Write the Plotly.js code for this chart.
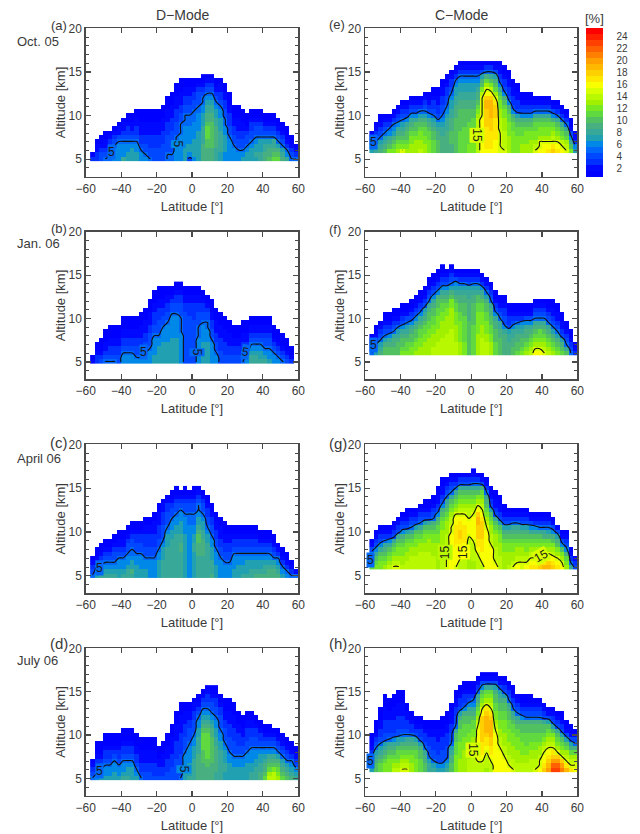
<!DOCTYPE html>
<html><head><meta charset="utf-8">
<script src="https://cdn.plot.ly/plotly-3.0.1.min.js"></script>
<style>html,body{margin:0;padding:0;background:#fff}#c{width:640px;height:834px}</style></head>
<body><div id="c"></div>
<script>
// Each string is one latitude column, read bottom-up; each character is a percentage in base 36.
const panelA=["31","33221","443211","5432211","5554321","66654321","666654221","8666543221","77665433211","77765432211","776654332211","665433222111","654433222111","544333222111","444333222111","444333222111","4444333222111","554444333222111","5544444333222111","666655444333222111","6666665554433222111","7777666655544332211","4677666655544332211","6777766665554433211","7777777666655444321","99998888777665543211","999aabbba99887654321","999aaaaaa99887654321","8889999988776543211","7788888777665433221","667777665544332211","6666654433322111","6665443322111","6654433222111","765443322111","77654432111","777654433211","787765443211","887775443211","99887543211","a9987543211","ba988543211","ba97543211","987543211","86532111","543211","5321"];
const panelB=["21","33211","432111","54322111","543322111","543322111","443322111","66543322111","66543322111","66543322111","65443322111","654433222111","6654433222111","666544433222111","77666654433322111","777766544433322111","777776665443322111","777776666544332211","777777666665443211","7777776666654433211","6666666555544433211","444444444444332211","444444444443332211","444444444433332211","666666555444332211","77777666654433211","7777766655443211","666665443322111","6654433222111","444333222111","44333222111","4433222111","443322111","443322111","5443322111","6654322111","88765432211","88765432211","87765432211","87654432211","76654432211","665432111","65432111","5432111","432111","3211",""];
const panelC=["54321","7653211","87643211","876543211","876543211","8765443211","77665432211","87665432211","887665443211","8977655443211","7776654433211","7766654433211","77665443332211","66665443332211","666654433322211","77776654433322211","888877765444333221","8888888777654443321","88888888877665443211","888888888877665443211","88888899887776654321","777777777766665443211","66666666666655544321","777777887766555443211","88888999aa98776554321","88888999988776544321","8888888877654433211","98887776654433211","777666544332211","66665443322211","6665443322111","666544332211","776665433211","777665433211","877665433211","877765433211","887765433211","987765433211","98776543211","98876543211","99876543211","9987543211","98765321","7653211","653211","5321","52"];
const panelD=["54321","654332111","765432111","76654332111","76654332111","77665432111","76654332111","876654332111","877654332111","777654332111","76543322111","5433222111","4433222111","4433222111","4333222111","43322111","433222111","44333222111","4443332222111","4444433332222111","544444333332222111","776666544433322211","877766665444332211","8888877766544433221","99999988887766543211","9999aaabbbba987654321","999aabbbbbba9876543321","9999aaaaaa998765443211","8899999988776654433211","88888887766544433211","7788777654443322111","7777665444333222111","777665444333222111","7776654433322111","777665443322111","7777665443332211","8877666544332211","888776654433211","99887765433211","ba99876543211","edba986543211","eeca98654321","dcba97543211","ba987543211","a987543211","987653211","87643211"];
const panelE=["76431","8754321","987543211","a98754321","ca9865321","cba9765321","dcba9864321","fcba98754321","dcbaa9864321","ddccba9864321","dddcbaa864321","eddccba975321","ddccbba9754321","cccbba98643211","bbbaa9875433211","aaa998754332211","99998876544332211","999998887654433211","99aaa99988776543321","aaaaaaaa999887765321","bbbbbaaaaa99887765321","bbbbbbaaaa99887765321","ccbbbbbaaa99887765321","ccccbbbbaa99887765321","eeeeeeeedcba998765321","ggggggggfffffeca97421","ghhhhhiiiijjigfdb9531","ghhhhiiijjjjigeca8531","ggghhhhhiiihfdba97421","fffffeeeddccba8643221","feeeedddccba96433211","ddddcccbba964332211","cccccbba964332211","ccccbba974332211","ddccbba9643211","ddcccba9643211","dddccba9643211","fedccbba85321","gffdccba85321","ggfdccba85321","hgfdccba85321","ihfedcb96421","hgfdcba85321","gfecba85321","fedba85321","ca864211","76321"];
const panelF=["54321","7653211","98754321","aa97543211","aa98643211","aa998543211","aaa98753211","cbaa98643211","cbba98754211","ccbaa98643211","dccbaa98643211","ddccbba98643211","dddccbba98743211","ddddccbbaa98543211","eedddccbbaa98643211","eeedddcccbbaa9643211","eeeeddddccbba98643211","eeeeeddddccba9864321","eeeeeedddddcca9754321","eeeddddcccbba9876421","dddcccccbbaa99875321","cccbbbbbbaaa99875321","aaaaaaaa999998874321","bbbbbbbaaaaa99875321","dddddcccccbbaa875321","eeeedddcccbba986321","eeeddcccbbaa975321","dddccbbaa99854321","bbbaaa998643211","aaaa9988543211","99999864433211","999887433211","aa9988643211","baa998753211","cbaa98763211","dcba99864211","edcba9864211","gfdcba9854321","gfdcbb9854321","fedcba9854321","edcba98543211","dcba975432211","cba975432211","ba97432211","a8543211","543211","321"];
const panelG=["ba86421","cba864321","ccba864321","dcba985321","edcba86321","fedcba84321","fedccba84321","eddccba964321","eeddccba743211","eeeddcba854321","eeeddccba74321","eeeeddcba854321","eeeeddccba743211","eeeedddcba843211","eeedddccba9543211","ddddddccbba96432211","eeeedddddccba96432211","fffffeeedddcba9854321","ggggggggffeedcba854321","fgggghhhhhggfdcba85321","eefghhhiihhgfedcba8431","eeeefghhhhggfedcba8431","dddeeeefgggfeedcba8431","ddeeeefgggggfedcba85321","eeefghhiiijjigfdca8531","efgghhhiiiihgfedcb9421","gggggggggfedcba985321","gggggfeeddcba743211","gfeeedddcba8432211","eeedddccba7432211","ddddccba9743211","edddccba974321","feddccba985321","gfeddcba985321","ffeddcba974321","gfedccba974321","hgfedcba86421","hgfedcba86321","ihfedcba85321","jhfedcb985321","jigfdcb975321","ihgedca96421","hgfdca9742","gfdca6421","dcb964321","85321","432"];
const panelH=["775432111","aa9875432111","bba987543322111","ccba98744333222111","cccba985433322111","edcba9864333222111","edcbba8744333222111","fedcba9754333222111","fedcba9854332211","ddccba98533211","cccbba9743211","bbbaa97433211","aa9985433211","887544332211","875443332211","764433322211","7644433322111","87644433322111","aa99875443322211","ccccbbbaa8544332211","dddccccbbbaa97433211","dddddcccbbbaa96433211","eeeddddccbbaa98643211","eeeeedddccbba98653211","eefgggggggfedcba985321","eefghhhiiiiiigfdcba6421","deeefghhijjjjihfdcb8421","eefghhiijjjjihfedcb8421","gggggggggfedccbbaa97421","gggggfeeddccbbaa987421","gggfeedddcccbbaa974321","gfeedddcccbbaa9854321","feedddcccbba98543211","eedddcccbba9854321","eeddcccbbaa9643211","eeddccbbbaa9543211","eeeddccbbaa9543211","feeddccbbaa954321","gffeddcbbaa954321","ihggfedcbaa84321","kjihgfedcba7421","nmkihfedca74321","nmkifdcba84321","lkifdcba743211","jhfedba74211","hfedb974211","gfedb95421"];

const latitudes=[-56.25,-53.75,-51.25,-48.75,-46.25,-43.75,-41.25,-38.75,-36.25,-33.75,-31.25,-28.75,-26.25,-23.75,-21.25,-18.75,-16.25,-13.75,-11.25,-8.75,-6.25,-3.75,-1.25,1.25,3.75,6.25,8.75,11.25,13.75,16.25,18.75,21.25,23.75,26.25,28.75,31.25,33.75,36.25,38.75,41.25,43.75,46.25,48.75,51.25,53.75,56.25,58.75];
const colTicks=[2,4,6,8,10,12,14,16,18,20,22,24];
const latTicks=[-60,-40,-20,0,20,40,60];
const altTicks=[5,10,15,20];
const bandColors=["#0000ff","#0008ff","#0030ff","#0048ff","#0068f8","#0088e8","#20a0b0","#38a898","#48b080","#50c060","#60d840","#78e820","#a0f000","#b8f800","#d8ff00","#f8ff00","#ffe800","#ffd000","#ffb800","#ffa000","#ff8000","#ff6000","#ff4000","#ff2000","#ff0000"];
// panel index, latitude, altitude, text, rotation, local background
const contourLabels=[
 [0,-45.7,5.8,"5",0,"#0068f8"],[0,-7.7,6.75,"5",90,"#0088e8"],
 [1,-27.4,6.1,"5",0,"#0068f8"],[1,2.6,6.1,"5",90,"#0068f8"],[1,30.4,6.2,"5",10,"#0068f8"],
 [2,-52.4,5.9,"5",0,"#0068f8"],
 [3,-52,5.9,"5",0,"#0068f8"],[3,-4.5,6.1,"5",90,"#0088e8"],
 [4,-55,7,"5",0,"#0068f8"],[4,3.5,7.7,"15",90,"#d8ff00"],
 [5,-55,6.9,"5",0,"#0068f8"],
 [6,-56.7,6.8,"5",0,"#0068f8"],[6,-14.7,7.7,"15",-90,"#b8f800"],[6,-4.7,7.7,"15",-90,"#f8ff00"],[6,39.4,7.3,"15",-30,"#d8ff00"],
 [7,-56.7,7,"5",0,"#0068f8"],[7,1.3,8.2,"15",90,"#d8ff00"]];

const W=640,H=834,TXT="#3a3a3a",AX="#4a4a4a",FONT="Liberation Sans, Arial, sans-serif";
const cscale=[];bandColors.forEach((c,i)=>{cscale.push([i/25,c]);cscale.push([(i+1)/25,c]);});
function grid(cols,base){
  const n=Math.max(...cols.map(s=>s.length));
  const z=[],y=[];
  for(let r=0;r<n;r++){y.push(base+0.5*r);z.push(cols.map(s=>r<s.length?parseInt(s[r],36):null));}
  return {z,y};
}
const panels=[
 {d:panelA,base:5,col:0,top:28.3,bot:176.7},{d:panelB,base:5,col:0,top:231.7,bot:379.3},
 {d:panelC,base:5,col:0,top:444.3,bot:593.3},{d:panelD,base:5,col:0,top:648.3,bot:795.7},
 {d:panelE,base:6,col:1,top:28.3,bot:176.7},{d:panelF,base:6,col:1,top:231.7,bot:379.3},
 {d:panelG,base:6,col:1,top:444.3,bot:593.3},{d:panelH,base:6,col:1,top:648.3,bot:795.7}];
const colX=[[85.7,298.3],[365,577.3]];
const traces=[];
const layout={width:W,height:H,margin:{l:0,r:0,t:0,b:0,autoexpand:false},paper_bgcolor:"#fff",plot_bgcolor:"#fff",
  font:{family:FONT,size:12,color:TXT},showlegend:false,annotations:[]};
const titleFont={family:FONT,size:13,color:TXT},tickFont={family:FONT,size:12,color:TXT};
panels.forEach((p,k)=>{
  const id=k===0?"":String(k+1);
  const g=grid(p.d,p.base);
  const [x0,x1]=colX[p.col];
  traces.push({type:"heatmap",x:latitudes,y:g.y,z:g.z,xaxis:"x"+id,yaxis:"y"+id,zmin:0.5,zmax:25.5,colorscale:cscale,
    hoverinfo:"skip",showscale:k===4,
    colorbar:{xref:"paper",yref:"paper",x:586/W,xanchor:"left",xpad:0,y:1-177/H,yanchor:"bottom",ypad:0,thicknessmode:"pixels",thickness:17,lenmode:"pixels",len:149,
      outlinewidth:0,tickmode:"array",tickvals:colTicks,ticktext:colTicks.map(String),ticks:"outside",ticklen:12,tickcolor:"rgba(0,0,0,0)",tickfont:{family:FONT,size:10,color:TXT}}});
  traces.push({type:"contour",x:latitudes,y:g.y,z:g.z,xaxis:"x"+id,yaxis:"y"+id,showscale:false,hoverinfo:"skip",connectgaps:false,
    autocontour:false,contours:{start:4.9,end:14.9,size:10,coloring:"none",showlabels:false},
    line:{color:"#111",width:1.1,smoothing:1}});
  layout["xaxis"+id]={domain:[x0/W,x1/W],range:[-60,60],anchor:"y"+id,tickmode:"array",tickvals:latTicks,ticks:"inside",ticklen:5,tickwidth:1.2,tickcolor:AX,
    showline:true,linecolor:AX,linewidth:1.4,mirror:"ticks",showgrid:false,zeroline:false,
    tickfont:tickFont,title:{text:"Latitude [°]",standoff:7,font:titleFont}};
  layout["yaxis"+id]={domain:[1-p.bot/H,1-p.top/H],range:[3,20],anchor:"x"+id,tickmode:"array",tickvals:altTicks,ticks:"inside",ticklen:5,tickwidth:1.2,tickcolor:AX,
    minor:{dtick:1,ticks:"inside",ticklen:3,tickcolor:AX,tickwidth:1,showgrid:false},
    showline:true,linecolor:AX,linewidth:1.4,mirror:"ticks",showgrid:false,zeroline:false,
    tickfont:tickFont,title:{text:"Altitude [km]",standoff:0,font:titleFont}};
});
contourLabels.forEach(([k,lat,alt,t,rot,bg])=>{
  const id=k===0?"":String(k+1);
  layout.annotations.push({text:t,xref:"x"+id,yref:"y"+id,x:lat,y:alt,showarrow:false,textangle:rot,bgcolor:bg,borderpad:0,
    font:{family:FONT,size:12,color:"#1a1a1a"}});
});
function note(text,x,y,anchor,size){layout.annotations.push({text,xref:"paper",yref:"paper",x:x/W,y:1-y/H,xanchor:anchor||"center",yanchor:"middle",showarrow:false,font:{family:FONT,size:size||13,color:TXT}});}
note("D\u2212Mode",183,15,"center",14);note("C\u2212Mode",462,15,"center",14);note("[%]",594,19);
note("(a)",59,25,"center",13);note("(b)",59,228,"center",13);note("(c)",59,442,"center",15);note("(d)",59,643,"center",15);
note("(e)",337,24,"center",13);note("(f)",335,229,"center",13);note("(g)",338,443,"center",15);note("(h)",338,643,"center",15);
note("Oct. 05",15,41,"left");note("Jan. 06",15,244,"left");note("April 06",15,458,"left");note("July 06",15,660,"left");
Plotly.newPlot("c",traces,layout,{displayModeBar:false,staticPlot:true});
</script></body></html>
